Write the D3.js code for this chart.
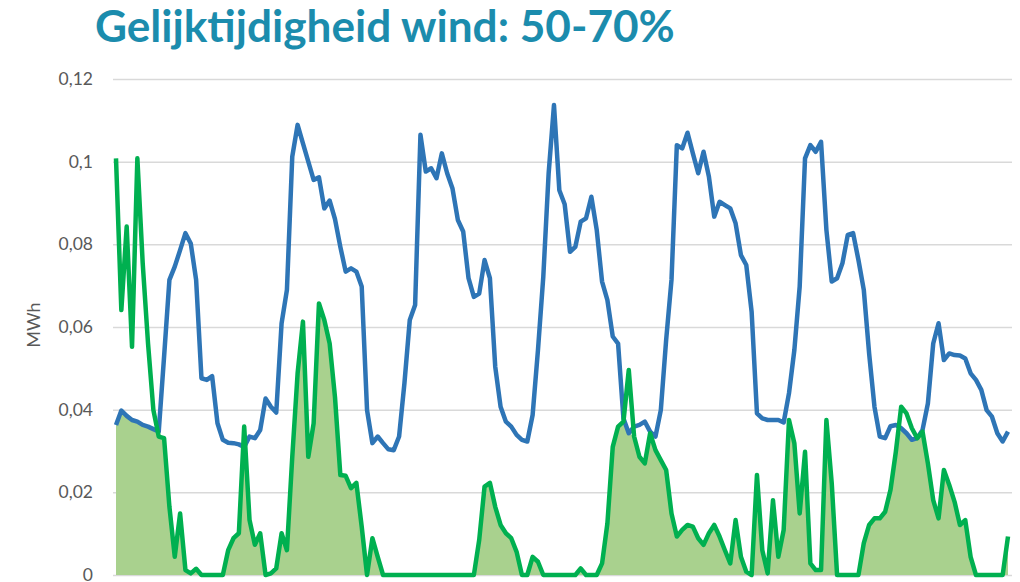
<!DOCTYPE html>
<html>
<head>
<meta charset="utf-8">
<script src="https://cdn.jsdelivr.net/npm/d3@7"></script>
<style>
    body { margin: 0; background: #ffffff; }
</style>
</head>
<body>
<div id="chart"></div>
<script>
// hourly values over one week (168 hours)
const demand = [
    0.0363, 0.0398, 0.0385, 0.0375, 0.0371, 0.0363, 0.0359, 0.0353, 0.0347, 0.0528,
    0.0714, 0.0746, 0.0786, 0.0827, 0.0802, 0.0714, 0.0476, 0.0472, 0.0481, 0.0367,
    0.0327, 0.0320, 0.0319, 0.0316, 0.0310, 0.0335, 0.0331, 0.0351, 0.0427, 0.0407,
    0.0393, 0.0609, 0.0690, 0.1012, 0.1089, 0.1044, 0.1000, 0.0956, 0.0962, 0.0887,
    0.0906, 0.0861, 0.0794, 0.0734, 0.0742, 0.0734, 0.0698, 0.0399, 0.0319, 0.0335,
    0.0319, 0.0304, 0.0302, 0.0335, 0.0464, 0.0617, 0.0653, 0.1065, 0.0976, 0.0984,
    0.0960, 0.1020, 0.0972, 0.0935, 0.0859, 0.0831, 0.0718, 0.0673, 0.0681, 0.0762,
    0.0718, 0.0504, 0.0407, 0.0371, 0.0359, 0.0339, 0.0327, 0.0323, 0.0387, 0.0544,
    0.0722, 0.0972, 0.1137, 0.0931, 0.0897, 0.0782, 0.0794, 0.0855, 0.0863, 0.0915,
    0.0835, 0.0710, 0.0665, 0.0577, 0.0560, 0.0379, 0.0343, 0.0359, 0.0363, 0.0371,
    0.0347, 0.0335, 0.0399, 0.0569, 0.0714, 0.1040, 0.1032, 0.1070, 0.1020, 0.0972,
    0.1024, 0.0964, 0.0867, 0.0903, 0.0895, 0.0887, 0.0851, 0.0774, 0.0750, 0.0637,
    0.0391, 0.0379, 0.0375, 0.0375, 0.0375, 0.0369, 0.0440, 0.0544, 0.0698, 0.1008,
    0.1040, 0.1024, 0.1048, 0.0835, 0.0710, 0.0718, 0.0754, 0.0823, 0.0827, 0.0762,
    0.0690, 0.0536, 0.0407, 0.0335, 0.0331, 0.0360, 0.0363, 0.0355, 0.0343, 0.0327,
    0.0331, 0.0351, 0.0415, 0.0560, 0.0609, 0.0520, 0.0536, 0.0532, 0.0531, 0.0524,
    0.0488, 0.0472, 0.0448, 0.0399, 0.0383, 0.0343, 0.0323, 0.0347
];

const wind = [
    0.1008, 0.0641, 0.0843, 0.0552, 0.1008, 0.0754, 0.0560, 0.0399, 0.0335, 0.0331,
    0.0165, 0.0044, 0.0149, 0.0012, 0.0004, 0.0015, 0, 0, 0, 0,
    0, 0.0060, 0.0089, 0.0101, 0.0359, 0.0133, 0.0073, 0.0101, 0, 0.0004,
    0.0016, 0.0101, 0.0060, 0.0286, 0.0488, 0.0613, 0.0286, 0.0367, 0.0657, 0.0617,
    0.0560, 0.0430, 0.0242, 0.0240, 0.0210, 0.0223, 0.0117, 0, 0.0089, 0.0044,
    0, 0, 0, 0, 0, 0, 0, 0, 0, 0,
    0, 0, 0, 0, 0, 0, 0, 0, 0.0085, 0.0214,
    0.0223, 0.0165, 0.0121, 0.0101, 0.0089, 0.0056, 0, 0, 0.0044, 0.0032,
    0, 0, 0, 0, 0, 0, 0, 0.0016, 0, 0,
    0, 0.0028, 0.0125, 0.0310, 0.0359, 0.0371, 0.0496, 0.0335, 0.0286, 0.0270,
    0.0343, 0.0302, 0.0278, 0.0254, 0.0149, 0.0093, 0.0109, 0.0121, 0.0117, 0.0089,
    0.0073, 0.0101, 0.0121, 0.0093, 0.0060, 0.0028, 0.0133, 0.0044, 0.0008, 0,
    0.0242, 0.0060, 0.0004, 0.0181, 0.0044, 0.0109, 0.0375, 0.0319, 0.0149, 0.0298,
    0.0028, 0.0012, 0.0012, 0.0375, 0.0222, 0, 0, 0, 0, 0,
    0.0077, 0.0121, 0.0137, 0.0137, 0.0153, 0.0206, 0.0298, 0.0407, 0.0391, 0.0355,
    0.0331, 0.0347, 0.0270, 0.0181, 0.0137, 0.0254, 0.0218, 0.0177, 0.0121, 0.0133,
    0.0044, 0, 0, 0, 0, 0, 0, 0.0093
];

const yTicks = [0, 0.02, 0.04, 0.06, 0.08, 0.1, 0.12];

const fmt = {
    width: 1020,
    height: 582,
    margins: { left: 116, right: 12, top: 79, bottom: 7 },
    title: 'Gelijktijdigheid wind: 50-70%',
    ylabel: 'MWh',
    blue: '#2e75b6',
    green: '#00b050',
    fill: '#a9d18e'
};

function overlap_chart(container, fmt, demand, wind) {
    let width = fmt.width - fmt.margins.left - fmt.margins.right,
        height = fmt.height - fmt.margins.top - fmt.margins.bottom;

    let x = d3.scaleLinear().domain([0, demand.length - 1]).range([0, width]),
        y = d3.scaleLinear().domain([0, 0.12]).range([height, 0]);

    let nl = d3.formatLocale({ decimal: ',', thousands: '.', grouping: [3], currency: ['€', ''] });

    let svg = d3.select(container).append('svg')
        .attr('version', 1.1)
        .attr('xmlns', 'http://www.w3.org/2000/svg')
        .attr('width', fmt.width)
        .attr('height', fmt.height)
        .style('font-family', 'Lato, "Open Sans", sans-serif');

    let g = svg.append('g')
        .attr('transform', 'translate(' + fmt.margins.left + ',' + fmt.margins.top + ')');

    // gridlines + tick labels
    let left = g.append('g')
        .call(d3.axisLeft(y).tickValues(yTicks).tickSize(-width - 7).tickPadding(20).tickFormat(nl.format('.2~f')))
        .attr('transform', 'translate(-3,0)');
    left.select('.domain').remove();
    left.selectAll('.tick line')
        .attr('stroke', '#d9d9d9')
        .attr('stroke-width', 1.5);
    left.selectAll('.tick text')
        .attr('fill', '#595959')
        .style('font-size', '17.5px')
        .style('font-family', 'Lato, sans-serif');

    g.append('text')
        .attr('fill', '#595959')
        .attr('transform', 'rotate(-90)')
        .attr('x', -y(0.06) + 2)
        .attr('y', -76)
        .attr('text-anchor', 'middle')
        .style('font-size', '18px')
        .text(fmt.ylabel);

    // simultaneous part: the lower of the two curves
    let area = d3.area()
        .x((d, i) => x(i))
        .y0(y(0))
        .y1((d) => y(d));

    g.append('path').datum(demand.map((d, i) => Math.min(d, wind[i])))
        .attr('fill', fmt.fill)
        .attr('d', area);

    let line = d3.line()
        .x((d, i) => x(i))
        .y((d) => y(d));

    g.append('path').datum(demand)
        .attr('fill', 'none')
        .attr('stroke', fmt.blue)
        .attr('stroke-width', 4.5)
        .attr('stroke-linejoin', 'round')
        .attr('d', line);

    g.append('path').datum(wind)
        .attr('fill', 'none')
        .attr('stroke', fmt.green)
        .attr('stroke-width', 4.5)
        .attr('stroke-linejoin', 'round')
        .attr('d', line);

    let title = svg.append('text')
        .attr('x', 95)
        .attr('y', 42)
        .attr('fill', '#1b8cad')
        .style('font-weight', 'bold')
        .style('font-size', '40px')
        .text(fmt.title);

    // squeeze to the width of the original heading
    let w = title.node().getComputedTextLength();
    title.style('font-size', (40 * 580 / w) + 'px');
}

overlap_chart('#chart', fmt, demand, wind);
</script>
</body>
</html>
